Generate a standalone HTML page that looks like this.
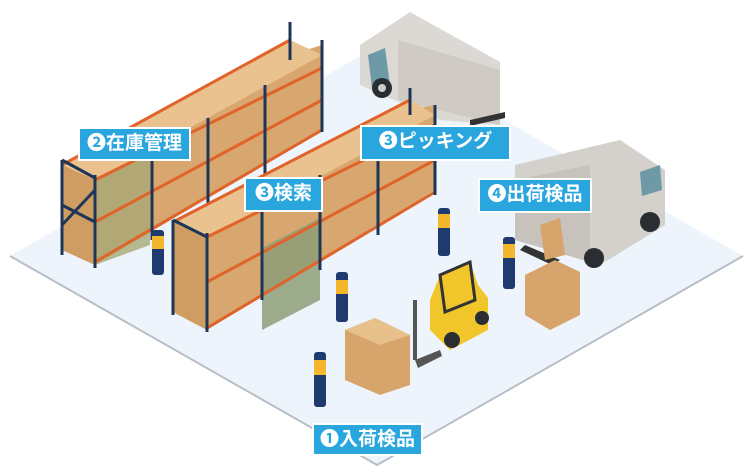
<!DOCTYPE html><html><head><meta charset="utf-8"><style>
html,body{margin:0;padding:0;background:#fff;width:751px;height:471px;overflow:hidden}
.wrap{position:relative;width:751px;height:471px}
svg{position:absolute;left:0;top:0}
.lb{position:absolute;background:#29a6dd;border:2px solid #fff;color:#fff;font-family:"Liberation Sans","Noto Sans CJK JP",sans-serif;font-weight:bold;font-size:19px;line-height:30px;text-align:center;box-sizing:border-box;white-space:nowrap}
</style></head><body><div class="wrap">
<svg width="751" height="471" viewBox="0 0 751 471">
<polygon points="10,256 376,47 743,256 377,465" fill="#edf4fb"/>
<polyline points="10,256 377,465 743,256" fill="none" stroke="#b8bfc6" stroke-width="2"/>
<!-- truck1 -->
<polygon points="360,45 410,12 500,62 500,125 440,120 360,85" fill="#dcd8d3"/>
<polygon points="398,40 500,70 500,125 398,100" fill="#cfcac4"/>
<polygon points="368,55 385,48 390,85 372,88" fill="#6e9aa8"/>
<circle cx="382" cy="88" r="10" fill="#2a2e33"/><circle cx="382" cy="88" r="4" fill="#ccc"/>
<polygon points="470,120 505,112 505,118 470,126" fill="#333"/>
<!-- truck2 -->
<polygon points="515,165 620,140 665,170 665,225 600,265 515,240" fill="#d4d0cb"/>
<polygon points="515,180 590,165 590,262 515,240" fill="#c7c2bc"/>
<polygon points="640,172 660,165 662,190 642,196" fill="#6e9aa8"/>
<circle cx="650" cy="222" r="10" fill="#2a2e33"/><circle cx="594" cy="258" r="10" fill="#2a2e33"/>
<polygon points="525,245 560,260 552,265 520,250" fill="#333"/>
<!-- shelf1 -->
<polygon points="62,165 290,55 322,45 322,130 95,265 62,250" fill="#d8a76f"/>
<polygon points="62,165 290,40 322,55 95,180" fill="#e9c28f"/>
<polygon points="95,180 150,155 150,245 95,265" fill="#a8a978" opacity="0.8"/>
<polygon points="62,165 95,180 95,265 62,250" fill="#cf9d62"/>
<g stroke="#e0642a" stroke-width="3"><line x1="95" y1="180" x2="322" y2="68"/><line x1="95" y1="222" x2="322" y2="100"/><line x1="95" y1="262" x2="322" y2="130"/><line x1="62" y1="165" x2="290" y2="40"/></g>
<g stroke="#1d3658" stroke-width="3"><line x1="62" y1="160" x2="62" y2="255"/><line x1="95" y1="175" x2="95" y2="268"/><line x1="152" y1="150" x2="152" y2="240"/><line x1="208" y1="118" x2="208" y2="210"/><line x1="265" y1="85" x2="265" y2="175"/><line x1="322" y1="40" x2="322" y2="132"/><line x1="290" y1="22" x2="290" y2="60"/><line x1="62" y1="160" x2="95" y2="178"/><line x1="62" y1="205" x2="95" y2="222"/><line x1="62" y1="225" x2="95" y2="190"/></g>
<!-- shelf2 -->
<polygon points="173,222 410,110 435,105 435,190 207,330 173,312" fill="#d8a76f"/>
<polygon points="173,222 410,100 435,115 207,237" fill="#e9c28f"/>
<polygon points="262,248 320,218 320,300 262,330" fill="#8d9e78" opacity="0.85"/>
<polygon points="173,222 207,235 207,330 173,312" fill="#cf9d62"/>
<g stroke="#e0642a" stroke-width="3"><line x1="207" y1="237" x2="435" y2="125"/><line x1="207" y1="282" x2="435" y2="160"/><line x1="207" y1="328" x2="435" y2="192"/><line x1="173" y1="222" x2="410" y2="100"/></g>
<g stroke="#1d3658" stroke-width="3"><line x1="173" y1="220" x2="173" y2="315"/><line x1="207" y1="233" x2="207" y2="332"/><line x1="262" y1="205" x2="262" y2="300"/><line x1="320" y1="175" x2="320" y2="270"/><line x1="378" y1="142" x2="378" y2="235"/><line x1="435" y1="105" x2="435" y2="195"/><line x1="410" y1="88" x2="410" y2="115"/><line x1="173" y1="220" x2="207" y2="237"/></g>
<!-- forklift -->
<polygon points="440,275 470,262 478,285 488,298 488,330 450,350 430,330 430,300" fill="#f1c62a"/>
<polygon points="440,275 470,262 475,300 445,312" fill="none" stroke="#333" stroke-width="3"/>
<line x1="415" y1="300" x2="415" y2="360" stroke="#555" stroke-width="4"/>
<polygon points="415,360 440,350 442,356 418,368" fill="#555"/>
<circle cx="452" cy="340" r="8" fill="#2a2e33"/><circle cx="482" cy="318" r="7" fill="#2a2e33"/>
<!-- pallet boxes -->
<polygon points="345,330 375,318 410,335 410,385 380,395 345,380" fill="#d7a56c"/>
<polygon points="345,330 375,318 410,335 380,345" fill="#e8c08c"/>
<polygon points="525,275 555,260 580,272 580,315 550,330 525,315" fill="#d7a56c"/>
<polygon points="540,225 560,218 565,255 545,260" fill="#d7a56c"/>
<!-- workers -->
<g fill="#1f3a6e">
<rect x="152" y="230" width="12" height="45" rx="3"/><rect x="336" y="272" width="12" height="50" rx="3"/><rect x="438" y="208" width="12" height="48" rx="3"/><rect x="503" y="237" width="12" height="52" rx="3"/><rect x="314" y="352" width="12" height="55" rx="3"/>
</g>
<g fill="#f4b62a"><rect x="152" y="236" width="12" height="13"/><rect x="336" y="280" width="12" height="14"/><rect x="438" y="214" width="12" height="14"/><rect x="503" y="244" width="12" height="14"/><rect x="314" y="360" width="12" height="15"/></g>
</svg>
<div class="lb" style="left:78px;top:127px;width:113px;height:34px">❷在庫管理</div>
<div class="lb" style="left:244px;top:177px;width:79px;height:35px">❸検索</div>
<div class="lb" style="left:360px;top:125px;width:151px;height:36px">❸ピッキング</div>
<div class="lb" style="left:478px;top:178px;width:114px;height:35px">❹出荷検品</div>
<div class="lb" style="left:312px;top:423px;width:111px;height:33px">❶入荷検品</div>
</div></body></html>
